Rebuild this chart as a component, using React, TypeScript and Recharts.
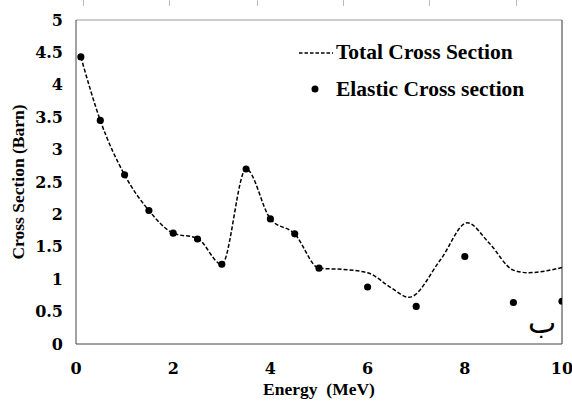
import React from "react";
import {
  ComposedChart,
  Line,
  Scatter,
  XAxis,
  YAxis,
  ZAxis,
  Legend,
  Label,
  ReferenceLine,
} from "recharts";

// energies (MeV) and cross sections (barn)
const elasticEnergy = [0.1, 0.5, 1, 1.5, 2, 2.5, 3, 3.5, 4, 4.5, 5, 6, 7, 8, 9, 10];
const elasticValues = [4.43, 3.45, 2.61, 2.06, 1.71, 1.62, 1.23, 2.7, 1.93, 1.7, 1.17, 0.88, 0.58, 1.35, 0.64, 0.66];

const totalEnergy = [0.1, 0.5, 1, 1.5, 2, 2.5, 3, 3.5, 4, 4.5, 5, 5.5, 6, 6.5, 6.85, 7.5, 8.05, 8.5, 9, 9.3, 10];
const totalValues = [4.43, 3.45, 2.61, 2.06, 1.71, 1.63, 1.23, 2.7, 1.93, 1.7, 1.17, 1.15, 1.1, 0.86, 0.72, 1.3, 1.87, 1.56, 1.14, 1.1, 1.18];

const xTicks = [0, 2, 4, 6, 8, 10];
const yTicks = [0, 0.5, 1, 1.5, 2, 2.5, 3, 3.5, 4, 4.5, 5];

const elasticData = elasticEnergy.map((e, i) => ({ energy: e, elastic: elasticValues[i] }));
const totalData = totalEnergy.map((e, i) => ({ energy: e, total: totalValues[i] }));

const FONT = "'Liberation Serif', 'DejaVu Serif', serif";
const TICK_FONT = "'DejaVu Serif', serif";

const fmt = (v: number) => String(v);

function LegendBox() {
  const txt: React.CSSProperties = {
    fontFamily: FONT,
    fontWeight: 700,
    fontSize: 21.5,
    color: "#000",
    lineHeight: "24px",
    whiteSpace: "nowrap",
  };
  return (
    <div>
      <div style={{ display: "flex", alignItems: "center", height: 24 }}>
        <svg width={37} height={10}>
          <line x1={0} y1={6} x2={34} y2={6} stroke="#000" strokeWidth={1.5} strokeDasharray="3.5 2" />
        </svg>
        <span style={txt}>Total Cross Section</span>
      </div>
      <div style={{ display: "flex", alignItems: "center", height: 24, marginTop: 13 }}>
        <svg width={37} height={10}>
          <circle cx={16} cy={5} r={3.5} fill="#000" />
        </svg>
        <span style={txt}>Elastic Cross section</span>
      </div>
    </div>
  );
}

// short stray tick marks above the plot in the original scan
const topMarks = [83, 169, 257, 343, 429, 516];

export default function App() {
  return (
    <div style={{ position: "absolute", left: 0, top: 0, width: 572, height: 403, background: "#fff" }}>
      {topMarks.map((x) => (
        <div key={x} style={{ position: "absolute", left: x, top: 0, width: 1, height: 6, background: "#bbb" }} />
      ))}
      <ComposedChart width={572} height={403} margin={{ top: 20, right: 10, bottom: 0, left: 16 }}>
        <XAxis
          type="number"
          dataKey="energy"
          domain={[0, 10]}
          ticks={xTicks}
          allowDataOverflow
          height={59}
          tickLine={false}
          tickSize={0}
          tickMargin={19}
          stroke="#444"
          tick={{ fill: "#000", fontFamily: TICK_FONT, fontWeight: 700, fontSize: 16 }}
        >
          <Label
            value={"Energy\u00a0 (MeV)"}
            position="insideBottom"
            offset={8}
            style={{ fill: "#000", fontFamily: FONT, fontWeight: 700, fontSize: 17.5 }}
          />
        </XAxis>
        <YAxis
          type="number"
          domain={[0, 5]}
          ticks={yTicks}
          width={60}
          tickLine={false}
          tickSize={0}
          tickMargin={13}
          tickFormatter={fmt}
          stroke="#444"
          tick={{ fill: "#000", fontFamily: TICK_FONT, fontWeight: 700, fontSize: 16 }}
        >
          <Label
            value="Cross Section (Barn)"
            angle={-90}
            position="center"
            dx={-28}
            style={{ fill: "#000", fontFamily: FONT, fontWeight: 700, fontSize: 17.5, textAnchor: "middle" }}
          />
        </YAxis>
        <ZAxis range={[40, 40]} />
        <ReferenceLine y={5} stroke="#999" strokeWidth={1} />
        <ReferenceLine x={10} stroke="#333" strokeWidth={1} />
        <Line
          data={totalData}
          dataKey="total"
          type="monotone"
          stroke="#000"
          strokeWidth={1.5}
          strokeDasharray="4 2"
          dot={false}
          isAnimationActive={false}
        />
        <Scatter data={elasticData} dataKey="elastic" fill="#000" isAnimationActive={false} />
        <Legend
          layout="vertical"
          verticalAlign="middle"
          align="center"
          content={() => <LegendBox />}
          wrapperStyle={{ position: "absolute", top: 40, left: 299, width: 260 }}
        />
      </ComposedChart>
      <div
        style={{
          position: "absolute",
          left: 528,
          top: 305,
          fontFamily: "'DejaVu Sans', sans-serif",
          fontSize: 30,
          color: "#000",
        }}
      >
        ب
      </div>
    </div>
  );
}
